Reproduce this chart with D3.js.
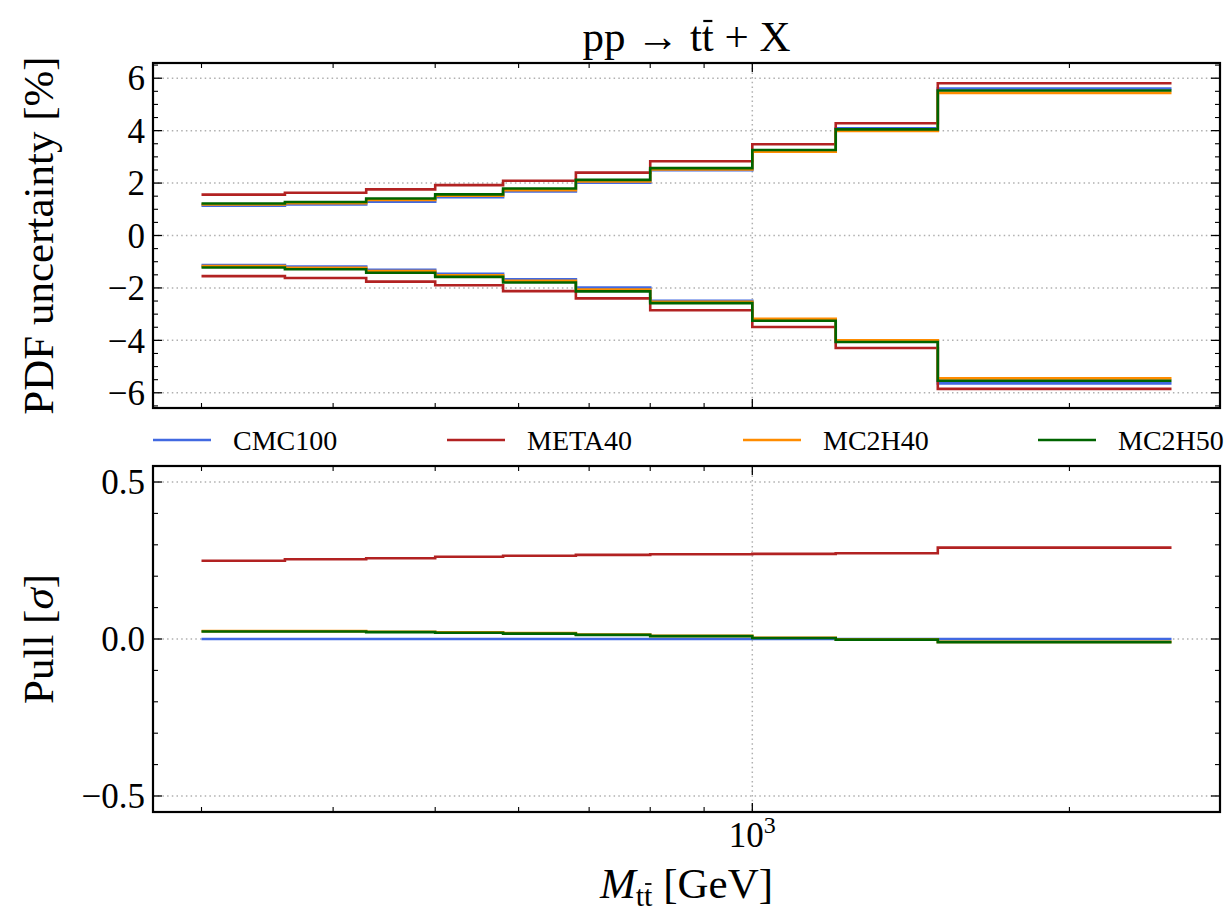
<!DOCTYPE html>
<html><head><meta charset="utf-8">
<script src="https://cdn.jsdelivr.net/npm/d3@7"></script>
<style>
html,body{margin:0;padding:0;background:#fff;}
svg text{font-family:"Liberation Serif","DejaVu Serif",serif;fill:#000;}
</style></head>
<body><svg id="c" width="1227" height="922"></svg>
<script>
// ---------- data ----------
const binEdges = [300, 360, 430, 500, 580, 680, 800, 1000, 1200, 1500, 2500];
const seriesNames = ["CMC100", "META40", "MC2H40", "MC2H50"];
const seriesColors = ["#4169e1", "#b22222", "#ff8c00", "#006400"];

const upperCMC100 = [1.14, 1.18, 1.29, 1.46, 1.68, 2.01, 2.49, 3.24, 4.09, 5.61];
const upperMETA40 = [1.56, 1.63, 1.76, 1.92, 2.09, 2.40, 2.83, 3.48, 4.28, 5.81];
const upperMC2H40 = [1.18, 1.23, 1.36, 1.52, 1.73, 2.06, 2.52, 3.20, 3.99, 5.44];
const upperMC2H50 = [1.22, 1.28, 1.41, 1.57, 1.79, 2.12, 2.57, 3.26, 4.05, 5.53];

const lowerCMC100 = [-1.13, -1.18, -1.31, -1.46, -1.67, -1.99, -2.49, -3.21, -4.03, -5.64];
const lowerMETA40 = [-1.55, -1.62, -1.76, -1.90, -2.12, -2.40, -2.85, -3.49, -4.29, -5.85];
const lowerMC2H40 = [-1.17, -1.23, -1.36, -1.52, -1.73, -2.06, -2.53, -3.18, -4.00, -5.45];
const lowerMC2H50 = [-1.22, -1.29, -1.42, -1.58, -1.79, -2.13, -2.58, -3.25, -4.06, -5.54];

const pullCMC100 = [0, 0, 0, 0, 0, 0, 0, 0, 0, 0];
const pullMETA40 = [0.249, 0.254, 0.257, 0.262, 0.265, 0.268, 0.270, 0.271, 0.273, 0.291];
const pullMC2H40 = [0.025, 0.025, 0.023, 0.021, 0.019, 0.014, 0.010, 0.004, -0.001, -0.009];
const pullMC2H50 = [0.024, 0.024, 0.022, 0.020, 0.017, 0.013, 0.009, 0.003, -0.002, -0.010];

const topYTicks = [-6, -4, -2, 0, 2, 4, 6];
const botYTicks = [-0.5, 0.0, 0.5];
const botYTickLabels = ["\u22120.5", "0.0", "0.5"];

// ---------- layout ----------
const L = 153, R = 1220;
const topP = {y0: 63, y1: 408};
const botP = {y0: 466, y1: 812};
const svg = d3.select("#c");
const tickFont = 35;

const lx0 = Math.log10(binEdges[0]), lx1 = Math.log10(binEdges[binEdges.length - 1]);
const pad = 0.05 * (lx1 - lx0);
const x = d3.scaleLog().domain([Math.pow(10, lx0 - pad), Math.pow(10, lx1 + pad)]).range([L, R]);
const yTop = d3.scaleLinear().domain([-6.58, 6.58]).range([topP.y1, topP.y0]);
const yBot = d3.scaleLinear().domain([-0.551, 0.551]).range([botP.y1, botP.y0]);

const xMinor = x.ticks().filter(v => v !== 1000);
const xMajor = [1000];

function panel(y, p, majors) {
  const g = svg.append("g");
  majors.forEach(v => {
    g.append("line").attr("x1", L).attr("x2", R).attr("y1", y(v)).attr("y2", y(v))
      .attr("stroke", "#b0b0b0").attr("stroke-width", 1.5).attr("stroke-dasharray", "1.5,3.2");
  });
  xMajor.forEach(v => {
    g.append("line").attr("x1", x(v)).attr("x2", x(v)).attr("y1", p.y0).attr("y2", p.y1)
      .attr("stroke", "#b0b0b0").attr("stroke-width", 1.5).attr("stroke-dasharray", "1.5,3.2");
  });
  return g;
}

function ticks(y, p, majors, minors) {
  const g = svg.append("g").attr("stroke", "#000");
  const majL = 9, minL = 5;
  xMajor.forEach(v => {
    g.append("line").attr("x1", x(v)).attr("x2", x(v)).attr("y1", p.y1).attr("y2", p.y1 - majL).attr("stroke-width", 1.3);
    g.append("line").attr("x1", x(v)).attr("x2", x(v)).attr("y1", p.y0).attr("y2", p.y0 + majL).attr("stroke-width", 1.3);
  });
  xMinor.forEach(v => {
    g.append("line").attr("x1", x(v)).attr("x2", x(v)).attr("y1", p.y1).attr("y2", p.y1 - minL).attr("stroke-width", 1.1);
    g.append("line").attr("x1", x(v)).attr("x2", x(v)).attr("y1", p.y0).attr("y2", p.y0 + minL).attr("stroke-width", 1.1);
  });
  majors.forEach(v => {
    g.append("line").attr("x1", L).attr("x2", L + majL).attr("y1", y(v)).attr("y2", y(v)).attr("stroke-width", 1.3);
    g.append("line").attr("x1", R).attr("x2", R - majL).attr("y1", y(v)).attr("y2", y(v)).attr("stroke-width", 1.3);
  });
  minors.forEach(v => {
    g.append("line").attr("x1", L).attr("x2", L + minL).attr("y1", y(v)).attr("y2", y(v)).attr("stroke-width", 1.1);
    g.append("line").attr("x1", R).attr("x2", R - minL).attr("y1", y(v)).attr("y2", y(v)).attr("stroke-width", 1.1);
  });
  svg.append("rect").attr("x", L).attr("y", p.y0).attr("width", R - L).attr("height", p.y1 - p.y0)
    .attr("fill", "none").attr("stroke", "#000").attr("stroke-width", 2.2);
}

function stepLine(y, vals, color, g) {
  const pts = binEdges.map((e, i) => [e, i < vals.length ? vals[i] : vals[vals.length - 1]]);
  const line = d3.line().x(d => x(d[0])).y(d => y(d[1])).curve(d3.curveStepAfter);
  g.append("path").attr("d", line(pts)).attr("fill", "none").attr("stroke", color)
    .attr("stroke-width", 2.6).attr("stroke-linejoin", "miter").attr("stroke-linecap", "butt");
}

// bar over a character of a text element
function barOver(textSel, idx, yOff, w) {
  const node = textSel.node();
  const ext = node.getExtentOfChar(idx);
  const s = node.getStartPositionOfChar(idx), e = node.getEndPositionOfChar(idx);
  const inset = (e.x - s.x) * 0.12;
  svg.append("line").attr("x1", s.x + inset).attr("x2", e.x - inset)
    .attr("y1", s.y - yOff).attr("y2", s.y - yOff).attr("stroke", "#000").attr("stroke-width", w);
}

const cp = svg.append("defs");
cp.append("clipPath").attr("id", "ct").append("rect").attr("x", L).attr("y", topP.y0).attr("width", R - L).attr("height", topP.y1 - topP.y0);
cp.append("clipPath").attr("id", "cb").append("rect").attr("x", L).attr("y", botP.y0).attr("width", R - L).attr("height", botP.y1 - botP.y0);

// top panel
panel(yTop, topP, topYTicks);
const upp = [upperCMC100, upperMETA40, upperMC2H40, upperMC2H50];
const low = [lowerCMC100, lowerMETA40, lowerMC2H40, lowerMC2H50];
const gTopL = svg.append("g").attr("clip-path", "url(#ct)");
for (let i = 0; i < 4; i++) {
  stepLine(yTop, upp[i], seriesColors[i], gTopL);
  stepLine(yTop, low[i], seriesColors[i], gTopL);
}
const topMinor = d3.range(-6.5, 6.51, 0.5).filter(v => Math.abs(v % 2) > 1e-6);
ticks(yTop, topP, topYTicks, topMinor);
topYTicks.forEach(v => {
  svg.append("text").attr("x", 145).attr("y", yTop(v)).attr("dy", "0.35em").attr("text-anchor", "end")
    .attr("font-size", tickFont).text(v < 0 ? "\u2212" + Math.abs(v) : String(v));
});

// bottom panel
panel(yBot, botP, botYTicks);
const pulls = [pullCMC100, pullMETA40, pullMC2H40, pullMC2H50];
const gBotL = svg.append("g").attr("clip-path", "url(#cb)");
for (let i = 0; i < 4; i++) stepLine(yBot, pulls[i], seriesColors[i], gBotL);
const botMinor = d3.range(-5, 6).map(v => v / 10).filter(v => Math.abs(v) !== 0.5 && v !== 0);
ticks(yBot, botP, botYTicks, botMinor);
botYTicks.forEach((v, i) => {
  svg.append("text").attr("x", 145).attr("y", yBot(v)).attr("dy", "0.35em").attr("text-anchor", "end")
    .attr("font-size", tickFont).text(botYTickLabels[i]);
});

// x tick label 10^3
const xt = svg.append("text").attr("x", x(1000)).attr("y", 847).attr("text-anchor", "middle").attr("font-size", tickFont);
xt.append("tspan").text("10");
xt.append("tspan").attr("dy", -14).attr("font-size", 24).text("3");

// legend
const legX = [153, 447, 743, 1038];
seriesNames.forEach((n, i) => {
  svg.append("line").attr("x1", legX[i]).attr("x2", legX[i] + 58).attr("y1", 440).attr("y2", 440)
    .attr("stroke", seriesColors[i]).attr("stroke-width", 2.6);
  svg.append("text").attr("x", legX[i] + 80).attr("y", 450).attr("font-size", 28).text(n);
});

// title
const tt = svg.append("text").attr("x", (L + R) / 2).attr("y", 51).attr("text-anchor", "middle")
  .attr("font-size", 43).attr("xml:space", "preserve").text("pp \u2192 tt + X");
barOver(tt, 6, 30, 2.2);

// y labels
svg.append("text").attr("transform", `translate(53,${(topP.y0 + topP.y1) / 2}) rotate(-90)`)
  .attr("text-anchor", "middle").attr("font-size", 43).text("PDF uncertainty [%]");
const pl = svg.append("text").attr("transform", `translate(53,${(botP.y0 + botP.y1) / 2}) rotate(-90)`)
  .attr("text-anchor", "middle").attr("font-size", 43);
pl.append("tspan").text("Pull [");
pl.append("tspan").attr("font-style", "italic").text("\u03c3");
pl.append("tspan").text("]");

// x label
const xl = svg.append("text").attr("x", (L + R) / 2).attr("y", 898).attr("text-anchor", "middle").attr("font-size", 43);
xl.append("tspan").attr("font-style", "italic").text("M");
xl.append("tspan").attr("font-size", 30).attr("dy", 8).text("tt");
xl.append("tspan").attr("dy", -8).text(" [GeV]");
barOver(xl, 2, 22, 1.8);
</script></body></html>
